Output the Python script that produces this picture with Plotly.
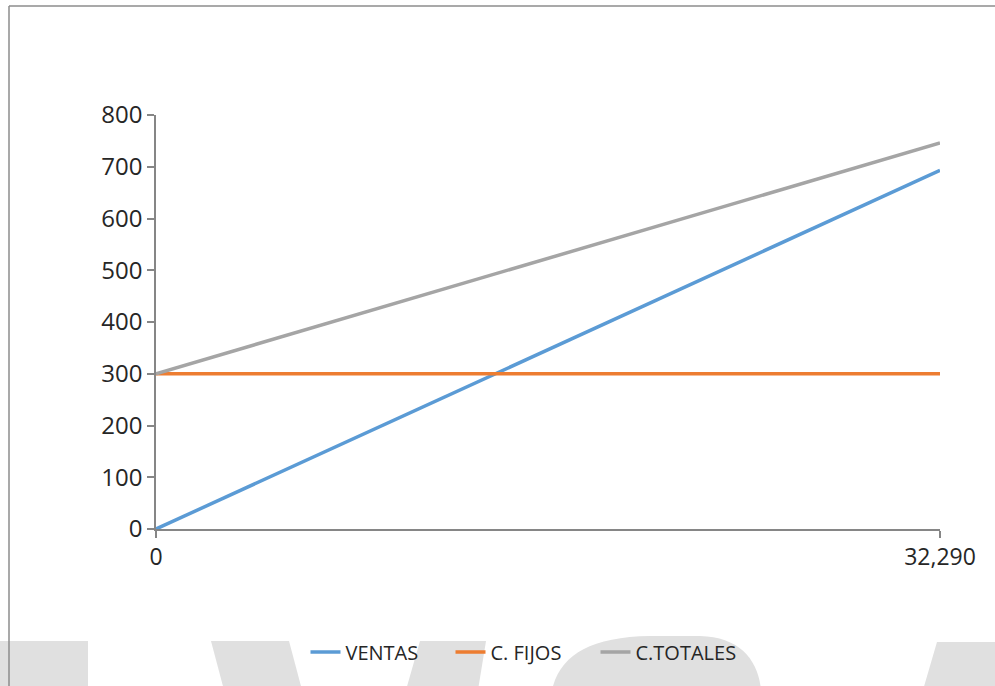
import plotly.graph_objects as go

categories = ["0", "32,290"]
ventas = [0, 693]
c_fijos = [300, 300]
c_totales = [300, 746]
y_ticks = [0, 100, 200, 300, 400, 500, 600, 700, 800]

W, H = 995, 686
L, R, T, B = 156, 55, 115, 157
PW, PH = W - L - R, H - T - B

def px(x):
    return (x - L) / PW

def py(y):
    return (H - B - y) / PH

fig = go.Figure()
for name, vals, col in [("VENTAS", ventas, "#5B9BD5"),
                        ("C. FIJOS", c_fijos, "#ED7D31"),
                        ("C.TOTALES", c_totales, "#A5A5A5")]:
    fig.add_trace(go.Scatter(x=categories, y=vals, mode="lines", name=name,
                             line=dict(color=col, width=3.5), cliponaxis=False))

wm = "#E0E0E0"
shapes = []
def poly(pts, color=wm):
    d = "M " + " L ".join(f"{px(a):.5f},{py(b):.5f}" for a, b in pts) + " Z"
    shapes.append(dict(type="path", xref="paper", yref="paper", path=d,
                       fillcolor=color, line=dict(width=0), layer="below"))

poly([(0, 641), (88, 641), (88, 690), (0, 690)])
poly([(211, 641), (289, 641), (302, 690), (224, 690)])
poly([(420, 641), (486, 641), (478, 690), (406, 690)])
def p(a, b):
    return f"{px(a):.5f},{py(b):.5f}"
d = (f"M {p(552, 690)} C {p(560, 655)} {p(590, 637)} {p(650, 636)} "
     f"L {p(700, 636)} C {p(740, 637)} {p(758, 660)} {p(761, 690)} Z")
shapes.append(dict(type="path", xref="paper", yref="paper", path=d,
                   fillcolor=wm, line=dict(width=0), layer="below"))
poly([(937, 642), (1000, 642), (1000, 690), (923, 690)])

shapes.append(dict(type="line", xref="paper", yref="paper", x0=px(9), x1=px(1000),
                   y0=py(6), y1=py(6), line=dict(color="#8C8C8C", width=1.5)))
shapes.append(dict(type="line", xref="paper", yref="paper", x0=px(9), x1=px(9),
                   y0=py(6), y1=py(690), line=dict(color="#8C8C8C", width=1.5)))

fig.update_layout(
    width=W, height=H,
    margin=dict(l=L, r=R, t=T, b=B),
    paper_bgcolor="white", plot_bgcolor="white",
    font=dict(family="Open Sans", color="#262626"),
    shapes=shapes,
    showlegend=True,
    legend=dict(orientation="h", x=px(523), xanchor="center", y=py(652), yanchor="middle",
                font=dict(size=20, color="#262626"), bgcolor="rgba(0,0,0,0)",
                itemwidth=30, tracegroupgap=0, entrywidth=100, entrywidthmode="pixels"),
    xaxis=dict(type="category", range=[0, 1], showgrid=False, zeroline=False,
               showline=True, linecolor="#868686", linewidth=1.5,
               ticks="outside", ticklen=7, tickcolor="#868686", tickwidth=1.5,
               tickfont=dict(size=23, color="#262626")),
    yaxis=dict(range=[0, 800], tickvals=y_ticks, showgrid=False, zeroline=False,
               showline=True, linecolor="#868686", linewidth=1.5,
               ticks="outside", ticklen=7, tickcolor="#868686", tickwidth=1.5,
               tickfont=dict(size=24, color="#262626")),
)

fig.write_html("out.html")
